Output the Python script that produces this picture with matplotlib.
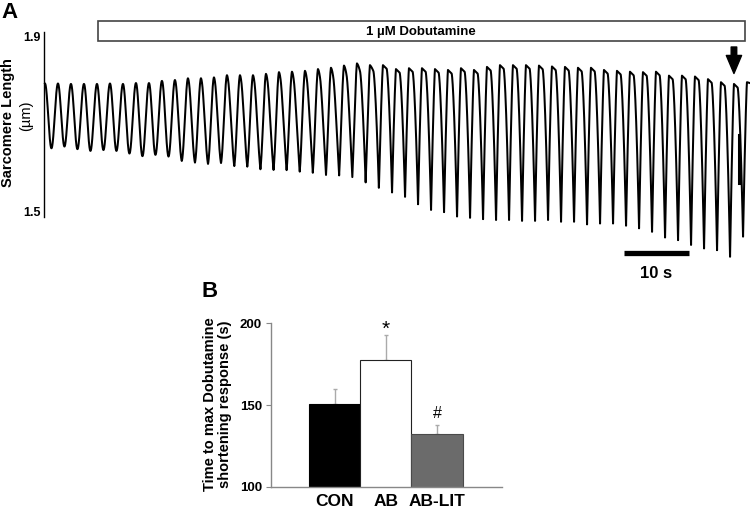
import numpy as np
import matplotlib
matplotlib.use('Agg')
import matplotlib.pyplot as plt
from matplotlib.patches import Rectangle, FancyArrowPatch

plt.rcParams['font.family'] = ['Liberation Sans', 'DejaVu Sans']

# ---------------- Panel A data (sarcomere length trace) ----------------
beat_period_s = 2.0
first_peak_s = 0.1
peak_um = [1.793, 1.793, 1.792, 1.792, 1.792, 1.793, 1.792, 1.794, 1.794, 1.799,
           1.801, 1.805, 1.805, 1.807, 1.812, 1.812, 1.812, 1.815, 1.819, 1.820,
           1.822, 1.826, 1.829, 1.834, 1.839, 1.835, 1.835, 1.826, 1.828, 1.828,
           1.826, 1.824, 1.828, 1.824, 1.831, 1.835, 1.835, 1.835, 1.834, 1.832,
           1.831, 1.829, 1.829, 1.824, 1.822, 1.820, 1.819, 1.820, 1.811, 1.811,
           1.809, 1.803, 1.796, 1.792, 1.796]
trough_um = [1.645, 1.649, 1.643, 1.639, 1.641, 1.639, 1.633, 1.627, 1.630, 1.626,
             1.616, 1.612, 1.609, 1.611, 1.604, 1.603, 1.597, 1.595, 1.595, 1.591,
             1.589, 1.584, 1.582, 1.578, 1.567, 1.553, 1.544, 1.534, 1.517, 1.504,
             1.499, 1.489, 1.486, 1.483, 1.481, 1.481, 1.479, 1.479, 1.481, 1.477,
             1.477, 1.471, 1.473, 1.473, 1.468, 1.462, 1.454, 1.441, 1.435, 1.424,
             1.416, 1.412, 1.397, 1.443]
artifact_s = [106.88, 106.88]
artifact_um = [1.675, 1.565]
drug_label = '1 \u00b5M Dobutamine'
drug_on_s = 8.2
drug_off_s = 107.8
arrow_beat = 53
scale_bar_s = 10

# ---------------- Panel B data ----------------
groups = ['CON', 'AB', 'AB-LIT']
time_to_max_s = [150.5, 177.5, 132.0]
sem_s = [9.3, 15.3, 5.7]
sig_marks = ['', '*', '#']
bar_colors = ['black', 'white', '#6b6b6b']
bar_edges = ['black', '#222222', '#4a4a4a']

# ---------------- figure ----------------
W, H = 750, 508
fig = plt.figure(figsize=(7.5, 5.08), dpi=100)


def px_rect(l, t, r, b):
    return [l / W, 1 - b / H, (r - l) / W, (b - t) / H]


def vA(py):
    return 1.9 - (py - 36.7) / 437.5


pxs = 6.5  # pixels per second
axA = fig.add_axes(px_rect(44.3, 15, 750, 285))
axA.set_xlim(0, (750 - 44.3) / pxs)
axA.set_ylim(vA(285), vA(15))
axA.patch.set_alpha(0)
for s in ['top', 'right', 'bottom']:
    axA.spines[s].set_visible(False)
axA.spines['left'].set_bounds(vA(216.7), vA(31.7))
axA.spines['left'].set_linewidth(1.0)
axA.set_xticks([])
axA.set_yticks([1.5, 1.9])
axA.set_yticklabels(['1.5', '1.9'], fontsize=9, fontweight='bold')
axA.tick_params(axis='y', length=0, pad=2.6)

# build trace from per-beat peaks / troughs
tt, vv = [], []
n = len(trough_um)
for i in range(n):
    P, Tr, Pn = peak_um[i], trough_um[i], peak_um[i + 1]
    amp = P - Tr
    k = float(np.clip((amp - 0.17) / 0.12, 0, 1))
    phi_t = 0.5 + 0.2 * k
    phi_c = 0.28 * k
    phi = np.linspace(0, 1, 200, endpoint=False)
    ys = np.empty_like(phi)
    yh = np.empty_like(phi)
    d = phi <= phi_t
    u = phi[d] / phi_t
    ys[d] = P - (P - Tr) * (1 - np.cos(np.pi * u)) / 2
    w = (phi[~d] - phi_t) / (1 - phi_t)
    ys[~d] = Tr + (Pn - Tr) * (1 - np.cos(np.pi * w)) / 2
    dec = 0.008
    pl = phi <= phi_c
    yh[pl] = P - dec * phi[pl] / max(phi_c, 1e-9)
    ds = (~pl) & d
    u2 = (phi[ds] - phi_c) / (phi_t - phi_c)
    yh[ds] = (P - dec) - (P - dec - Tr) * u2 ** 1.6
    yh[~d] = Tr + (Pn - Tr) * (1 - (1 - w) ** 1.3)
    y = (1 - k) * ys + k * yh
    tt.append(first_peak_s + (i + phi) * beat_period_s)
    vv.append(y)
t_last = first_peak_s + n * beat_period_s
tt.append(np.linspace(t_last, (750 - 44.3) / pxs, 10))
vv.append(np.linspace(peak_um[-1], peak_um[-1] - 0.002, 10))
tt = np.concatenate(tt)
vv = np.concatenate(vv)
axA.plot(tt, vv, color='black', lw=1.45, clip_on=False, solid_joinstyle='round')
axA.plot(artifact_s, artifact_um, color='black', lw=2.2, clip_on=False)

# drug application box
axA.add_patch(Rectangle((drug_on_s, vA(41)), drug_off_s - drug_on_s, vA(20.7) - vA(41),
                        fill=False, ec='#444444', lw=1.2, clip_on=False))
axA.text((drug_on_s + drug_off_s) / 2, vA(35), drug_label, ha='center', va='baseline',
         fontsize=9.5, fontweight='bold')

# arrow at the marked beat
t_arrow = first_peak_s + arrow_beat * beat_period_s
axA.add_patch(FancyArrowPatch((t_arrow, vA(47)), (t_arrow, vA(73.5)),
                              arrowstyle='simple,head_length=13,head_width=11,tail_width=4',
                              mutation_scale=1, shrinkA=0, shrinkB=0, color='black',
                              clip_on=False))

# scale bar
x0 = (624 - 44.3) / pxs
axA.plot([x0, x0 + scale_bar_s], [vA(253.3)] * 2, color='black', lw=3.8,
         solid_capstyle='butt', clip_on=False)
axA.text(x0 + scale_bar_s / 2, vA(278), '%d s' % scale_bar_s, ha='center', va='baseline',
         fontsize=12, fontweight='bold')

fig.text(8 / W, 1 - 123 / H, 'Sarcomere Length', rotation=90, ha='center', va='center',
         fontsize=10.5, fontweight='bold')
fig.text(26.5 / W, 1 - 116 / H, '(\u00b5m)', rotation=90, ha='center', va='center',
         fontsize=10.5)
fig.text(1.7 / W, 1 - 18.3 / H, 'A', ha='left', va='baseline', fontsize=16, fontweight='bold')

# ---------------- Panel B ----------------
axB = fig.add_axes(px_rect(270.7, 323.3, 501.7, 486.7))
x = np.arange(len(groups))
axB.bar(x, time_to_max_s, width=1.0, color=bar_colors, edgecolor=bar_edges, linewidth=0.8,
        zorder=2)
axB.errorbar(x, time_to_max_s, yerr=[np.zeros(len(x)), sem_s], fmt='none', ecolor='#aaaaaa',
             elinewidth=1.0, capsize=1.5, capthick=1.0, zorder=1)
for i, m in enumerate(sig_marks):
    if m:
        fs = 15 if m == '*' else 11.5
        off = 0.5 if m == '*' else 5.0
        axB.annotate(m, (x[i], time_to_max_s[i] + sem_s[i]), xytext=(0, off),
                     textcoords='offset points', ha='center', va='baseline', fontsize=fs)
axB.set_ylim(100, 200)
axB.set_xlim(-1.247, 3.26)
axB.set_yticks([100, 150, 200])
axB.set_yticklabels(['100', '150', '200'], fontsize=9.5, fontweight='bold')
axB.set_xticks(x)
axB.set_xticklabels(groups, fontsize=12.5, fontweight='bold')
axB.tick_params(axis='y', direction='out', length=3.4, color='#888888', pad=3)
axB.tick_params(axis='x', length=0, pad=5)
for s in ['top', 'right']:
    axB.spines[s].set_visible(False)
for s in ['left', 'bottom']:
    axB.spines[s].set_color('#888888')
    axB.spines[s].set_linewidth(1.0)
axB.patch.set_alpha(0)

fig.text(217.5 / W, 1 - 404 / H, 'Time to max Dobutamine\nshortening response (s)',
         rotation=90, ha='center', va='center', fontsize=10.5, fontweight='bold',
         multialignment='center', linespacing=1.15)
fig.text(201.7 / W, 1 - 296.7 / H, 'B', ha='left', va='baseline', fontsize=16, fontweight='bold')

fig.savefig('out.png', dpi=100)
